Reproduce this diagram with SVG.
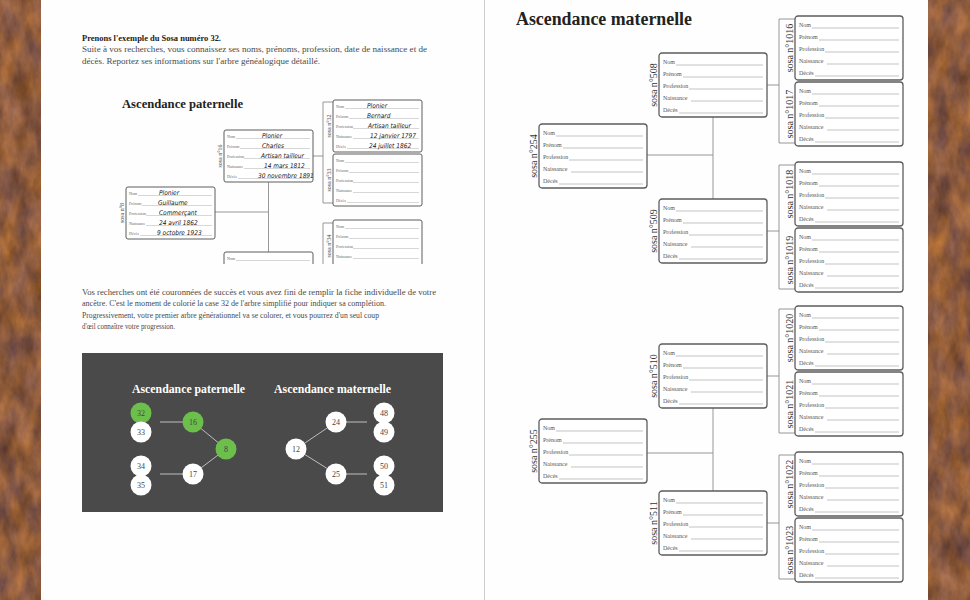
<svg xmlns="http://www.w3.org/2000/svg" width="970" height="600" viewBox="0 0 970 600">
<defs>
<style>
.body{font-family:"Liberation Serif","DejaVu Serif",serif;font-size:8.8px;fill:#4a4a4a}
.bold{font-weight:bold;fill:#222}
.title{font-family:"Liberation Serif","DejaVu Serif",serif;font-weight:bold;fill:#222}
.card{fill:#fff;stroke:#5c5c5c;stroke-width:1.3}
.lab{font-family:"Liberation Serif",serif;font-size:6px;fill:#555}
.labs{font-family:"Liberation Serif",serif;font-size:4px;fill:#666}
.rule{stroke:#9a9a9a;stroke-width:0.6;fill:none}
.sosa{font-family:"Liberation Serif",serif;font-size:10px;fill:#333;text-anchor:middle}
.sosas{font-family:"Liberation Serif",serif;font-size:6px;fill:#444;text-anchor:middle}
.conn{fill:none;stroke:#8c8c8c;stroke-width:0.9}
.hand{font-family:"Liberation Sans Narrow","DejaVu Sans Condensed",sans-serif;font-style:italic;font-size:6.5px;fill:#111}
.dl{stroke:#bdbdbd;stroke-width:1}
.num{font-family:"Liberation Serif",serif;font-size:8px;fill:#444;text-anchor:middle}
.w{fill:#fff}
.g{fill:#6dbf4b}
</style>
<filter id="rust" x="0" y="0" width="1" height="1" color-interpolation-filters="sRGB">
<feTurbulence type="fractalNoise" baseFrequency="0.06 0.03" numOctaves="4" seed="7" result="n"/>
<feColorMatrix in="n" type="matrix" values="0.5 0 0 0 0.3  0.32 0 0.05 0 0.17  0.08 0 0.2 0 0.1  0 0 0 0 1"/>
</filter>
<g id="cardR">
<rect x="0" y="0" width="108" height="64" rx="3" class="card"/>
<text class="lab" x="4" y="11">Nom</text>
<text class="lab" x="4" y="23">Prénom</text>
<text class="lab" x="4" y="35">Profession</text>
<text class="lab" x="4" y="47">Naissance</text>
<text class="lab" x="4" y="59">Décès</text>
<path class="rule" d="M17 12H104M24 24H104M30 36H104M32 48H104M20 60H104"/>
</g>
<g id="cardL">
<rect x="0" y="0" width="89" height="52" rx="2" class="card" style="stroke-width:1"/>
<text class="labs" x="3" y="7.5">Nom</text>
<text class="labs" x="3" y="17.5">Prénom</text>
<text class="labs" x="3" y="27.5">Profession</text>
<text class="labs" x="3" y="37.5">Naissance</text>
<text class="labs" x="3" y="47.5">Décès</text>
<path class="rule" style="stroke-width:0.4" d="M12 8.5H86M16 18.5H86M20 28.5H86M20 38.5H86M14 48.5H86"/>
</g>
<clipPath id="insetClip"><rect x="100" y="88" width="340" height="176"/></clipPath>
</defs>

<!-- background -->
<rect x="0" y="0" width="42" height="600" fill="#8a5a36" filter="url(#rust)"/>
<rect x="927" y="0" width="43" height="600" fill="#8a5a36" filter="url(#rust)"/>
<rect x="41" y="0" width="443" height="600" fill="#fefefe"/>
<rect x="485" y="0" width="443" height="600" fill="#fefefe"/>
<line x1="484.5" y1="0" x2="484.5" y2="600" stroke="#cfcfcf" stroke-width="1"/>

<!-- left page text -->
<g id="intro">
<text class="body bold" x="82" y="40.5" textLength="139" lengthAdjust="spacingAndGlyphs">Prenons l'exemple du Sosa numéro 32.</text>
<text class="body" x="82" y="52" textLength="345" lengthAdjust="spacingAndGlyphs">Suite à vos recherches, vous connaissez ses noms, prénoms, profession, date de naissance et de</text>
<text class="body" x="82" y="63.5" textLength="238" lengthAdjust="spacingAndGlyphs">décès. Reportez ses informations sur l'arbre généalogique détaillé.</text>
</g>

<!-- inset detailed tree -->
<g id="inset" clip-path="url(#insetClip)">
<text class="title" x="122" y="108" font-size="12" textLength="121" lengthAdjust="spacingAndGlyphs">Ascendance paternelle</text>
<g id="inset-connectors">
<path class="conn" d="M215 212H268.5M268.5 182V252M313 156H323M333 102H323V203H333M313 278H323M333 223H323V300"/>
</g>
<g id="sosa8">
<use href="#cardL" x="126" y="187"/>
<text class="sosas" transform="translate(123.5 213) rotate(-90)">sosa n°8</text>
<text class="hand" x="159" y="195">Plonier</text>
<text class="hand" x="158" y="205">Guillaume</text>
<text class="hand" x="159" y="215">Commerçant</text>
<text class="hand" x="159" y="225">24 avril 1862</text>
<text class="hand" x="157" y="235">9 octobre 1923</text>
</g>
<g id="sosa16">
<use href="#cardL" x="224" y="130"/>
<text class="sosas" transform="translate(222 156) rotate(-90)">sosa n°16</text>
<text class="hand" x="262" y="138">Plonier</text>
<text class="hand" x="262" y="148">Charles</text>
<text class="hand" x="261" y="158">Artisan tailleur</text>
<text class="hand" x="264" y="168">14 mars 1812</text>
<text class="hand" x="258" y="178">30 novembre 1891</text>
</g>
<g id="sosa17">
<use href="#cardL" x="224" y="252"/>
<text class="sosas" transform="translate(222 278) rotate(-90)">sosa n°17</text>
</g>
<g id="sosa32">
<use href="#cardL" x="333" y="100"/>
<text class="sosas" transform="translate(331 126) rotate(-90)">sosa n°32</text>
<text class="hand" x="367" y="108">Plonier</text>
<text class="hand" x="367" y="118">Bernard</text>
<text class="hand" x="368" y="128">Artisan tailleur</text>
<text class="hand" x="370" y="138">12 janvier 1797</text>
<text class="hand" x="369" y="148">24 juillet 1862</text>
</g>
<g id="sosa33">
<use href="#cardL" x="333" y="154"/>
<text class="sosas" transform="translate(331 180) rotate(-90)">sosa n°33</text>
</g>
<g id="sosa34">
<use href="#cardL" x="333" y="220"/>
<text class="sosas" transform="translate(331 246) rotate(-90)">sosa n°34</text>
</g>
</g>

<!-- second paragraph -->
<g id="para2">
<text class="body" x="82" y="294.5" textLength="354" lengthAdjust="spacingAndGlyphs">Vos recherches ont été couronnées de succès et vous avez fini de remplir la fiche individuelle de votre</text>
<text class="body" x="82" y="306" textLength="304" lengthAdjust="spacingAndGlyphs">ancêtre. C'est le moment de colorié la case 32 de l'arbre simplifié pour indiquer sa complétion.</text>
<text class="body" x="82" y="317.5" textLength="297" lengthAdjust="spacingAndGlyphs">Progressivement, votre premier arbre générationnel va se colorer, et vous pourrez d'un seul coup</text>
<text class="body" x="82" y="329" textLength="93" lengthAdjust="spacingAndGlyphs">d'œil connaître votre progression.</text>
</g>

<!-- simplified tree -->
<g id="simple">
<rect x="82" y="353" width="361" height="159" fill="#4a4a4a"/>
<text class="title" x="132" y="393" font-size="11.5" style="fill:#fff" textLength="113" lengthAdjust="spacingAndGlyphs">Ascendance paternelle</text>
<text class="title" x="274" y="393" font-size="11.5" style="fill:#fff" textLength="117" lengthAdjust="spacingAndGlyphs">Ascendance maternelle</text>
<g id="simple-connectors">
<path class="dl" fill="none" d="M160 422H193L226 449L193 474H160M367 422H336L296 449L336 474H367"/>
</g>
<g id="c32"><circle class="g" cx="141" cy="413" r="10.5"/><text class="num" x="141" y="416">32</text></g>
<g id="c33"><circle class="w" cx="141" cy="432" r="10.5"/><text class="num" x="141" y="435">33</text></g>
<g id="c34"><circle class="w" cx="141" cy="466" r="10.5"/><text class="num" x="141" y="469">34</text></g>
<g id="c35"><circle class="w" cx="141" cy="485" r="10.5"/><text class="num" x="141" y="488">35</text></g>
<g id="c16"><circle class="g" cx="193" cy="422" r="10.5"/><text class="num" x="193" y="425">16</text></g>
<g id="c17"><circle class="w" cx="193" cy="474" r="10.5"/><text class="num" x="193" y="477">17</text></g>
<g id="c8"><circle class="g" cx="226" cy="449" r="10.5"/><text class="num" x="226" y="452">8</text></g>
<g id="c12"><circle class="w" cx="296" cy="449" r="10.5"/><text class="num" x="296" y="452">12</text></g>
<g id="c24"><circle class="w" cx="336" cy="422" r="10.5"/><text class="num" x="336" y="425">24</text></g>
<g id="c25"><circle class="w" cx="336" cy="474" r="10.5"/><text class="num" x="336" y="477">25</text></g>
<g id="c48"><circle class="w" cx="384" cy="413" r="10.5"/><text class="num" x="384" y="416">48</text></g>
<g id="c49"><circle class="w" cx="384" cy="432" r="10.5"/><text class="num" x="384" y="435">49</text></g>
<g id="c50"><circle class="w" cx="384" cy="466" r="10.5"/><text class="num" x="384" y="469">50</text></g>
<g id="c51"><circle class="w" cx="384" cy="485" r="10.5"/><text class="num" x="384" y="488">51</text></g>
</g>

<!-- right page -->
<text class="title" x="516" y="25" font-size="18" textLength="176" lengthAdjust="spacingAndGlyphs">Ascendance maternelle</text>
<g id="connectors">
<path class="conn" d="M647 155H713M713 117V199M647 453H713M713 408V491"/>
<path class="conn" d="M767 85H779M795 19H779V143H795M767 231H779M795 165H779V289H795M767 376H779M795 309H779V433H795M767 523H779M795 455H779V579H795"/>
</g>
<g id="sosa254"><use href="#cardR" x="539" y="124"/><text class="sosa" transform="translate(537 156) rotate(-90)">sosa n°254</text></g>
<g id="sosa255"><use href="#cardR" x="539" y="419"/><text class="sosa" transform="translate(537 451) rotate(-90)">sosa n°255</text></g>
<g id="sosa508"><use href="#cardR" x="659" y="53"/><text class="sosa" transform="translate(657 85) rotate(-90)">sosa n°508</text></g>
<g id="sosa509"><use href="#cardR" x="659" y="199"/><text class="sosa" transform="translate(657 231) rotate(-90)">sosa n°509</text></g>
<g id="sosa510"><use href="#cardR" x="659" y="344"/><text class="sosa" transform="translate(657 376) rotate(-90)">sosa n°510</text></g>
<g id="sosa511"><use href="#cardR" x="659" y="491"/><text class="sosa" transform="translate(657 523) rotate(-90)">sosa n°511</text></g>
<g id="sosa1016"><use href="#cardR" x="795" y="16"/><text class="sosa" transform="translate(793 48) rotate(-90)">sosa n°1016</text></g>
<g id="sosa1017"><use href="#cardR" x="795" y="82"/><text class="sosa" transform="translate(793 114) rotate(-90)">sosa n°1017</text></g>
<g id="sosa1018"><use href="#cardR" x="795" y="162"/><text class="sosa" transform="translate(793 194) rotate(-90)">sosa n°1018</text></g>
<g id="sosa1019"><use href="#cardR" x="795" y="228"/><text class="sosa" transform="translate(793 260) rotate(-90)">sosa n°1019</text></g>
<g id="sosa1020"><use href="#cardR" x="795" y="306"/><text class="sosa" transform="translate(793 338) rotate(-90)">sosa n°1020</text></g>
<g id="sosa1021"><use href="#cardR" x="795" y="372"/><text class="sosa" transform="translate(793 404) rotate(-90)">sosa n°1021</text></g>
<g id="sosa1022"><use href="#cardR" x="795" y="452"/><text class="sosa" transform="translate(793 484) rotate(-90)">sosa n°1022</text></g>
<g id="sosa1023"><use href="#cardR" x="795" y="518"/><text class="sosa" transform="translate(793 550) rotate(-90)">sosa n°1023</text></g>
</svg>
